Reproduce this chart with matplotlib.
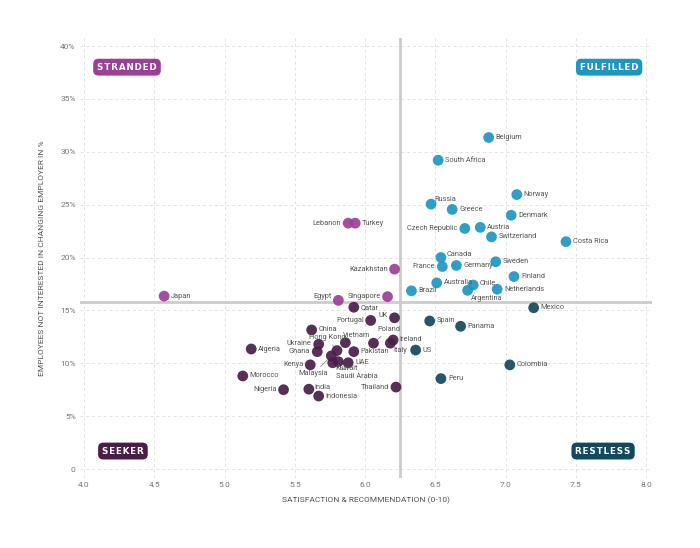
import matplotlib
matplotlib.use("Agg")
import matplotlib.pyplot as plt

plt.rcParams['font.family'] = ['Liberation Sans Narrow', 'Roboto', 'DejaVu Sans']

# ---- data ----
stranded_names = ["Japan", "Egypt", "Singapore", "Kazakhstan", "Lebanon", "Turkey"]
stranded_x = [4.57, 5.81, 6.16, 6.21, 5.88, 5.93]
stranded_y = [16.35, 15.95, 16.3, 18.9, 23.25, 23.25]

fulfilled_names = ["Belgium", "South Africa", "Norway", "Russia", "Greece", "Denmark",
                   "Czech Republic", "Austria", "Switzerland", "Costa Rica", "Canada",
                   "France", "Germany", "Sweden", "Finland", "Australia", "Chile",
                   "Argentina", "Netherlands", "Brazil"]
fulfilled_x = [6.88, 6.52, 7.08, 6.47, 6.62, 7.04, 6.71, 6.82, 6.90, 7.43, 6.54,
               6.55, 6.65, 6.93, 7.06, 6.51, 6.77, 6.73, 6.94, 6.33]
fulfilled_y = [31.35, 29.2, 25.95, 25.05, 24.55, 24.0, 22.75, 22.85, 21.95, 21.5, 20.0,
               19.15, 19.25, 19.6, 18.2, 17.6, 17.4, 16.9, 17.0, 16.85]

restless_names = ["Mexico", "Spain", "Panama", "US", "Colombia", "Peru"]
restless_x = [7.20, 6.46, 6.68, 6.36, 7.03, 6.54]
restless_y = [15.25, 14.0, 13.5, 11.25, 9.85, 8.55]

seeker_names = ["Qatar", "UK", "Portugal", "China", "Poland", "Vietnam", "Hong Kong",
                "Ireland", "Italy", "Ukraine", "Ghana", "Pakistan", "Kenya", "Malaysia",
                "Saudi Arabia", "Kuwait", "UAE", "Thailand", "India", "Indonesia",
                "Nigeria", "Algeria", "Morocco"]
seeker_x = [5.92, 6.21, 6.04, 5.62, 6.06, 5.86, 5.80, 6.20, 6.18, 5.67, 5.66, 5.92,
            5.61, 5.76, 5.77, 5.81, 5.88, 6.22, 5.60, 5.67, 5.42, 5.19, 5.13]
seeker_y = [15.3, 14.3, 14.05, 13.15, 11.9, 11.95, 11.2, 12.2, 11.9, 11.8, 11.1, 11.1,
            9.85, 10.7, 10.05, 10.15, 10.05, 7.75, 7.55, 6.9, 7.5, 11.35, 8.8]

x_threshold = 6.25
y_threshold = 15.8

x_ticks = [4.0, 4.5, 5.0, 5.5, 6.0, 6.5, 7.0, 7.5, 8.0]
y_ticks = [0, 5, 10, 15, 20, 25, 30, 35, 40]
y_ticklabels = ["0", "5%", "10%", "15%", "20%", "25%", "30%", "35%", "40%"]

x_label = "SATISFACTION & RECOMMENDATION (0-10)"
y_label = "EMPLOYEES NOT INTERESTED IN CHANGING EMPLOYER IN %"

badge_names = ["STRANDED", "FULFILLED", "SEEKER", "RESTLESS"]

# ---- styles ----
C_STRANDED = "#9b3f97"
C_FULFILLED = "#1e96c2"
C_SEEKER = "#4a1d48"
C_RESTLESS = "#12495d"

# label placement: name -> (dx px, dy px, ha, leader line)
label_pos = {
    "Lebanon": (-7, 0, "right", False),
    "Kazakhstan": (-7, 0, "right", False),
    "Singapore": (-7, 0, "right", False),
    "Egypt": (-7, 4, "right", False),
    "Czech Republic": (-7, 0, "right", False),
    "France": (-7, 0, "right", False),
    "Russia": (3, 5, "left", False),
    "Canada": (6, 3, "left", False),
    "Chile": (6, 2, "left", False),
    "Argentina": (3, -8, "left", False),
    "UK": (-7, 2, "right", False),
    "Portugal": (-7, 0, "right", False),
    "Ukraine": (-7, 1, "right", False),
    "Ghana": (-7, 0, "right", False),
    "Kenya": (-7, 0, "right", False),
    "Thailand": (-7, 0, "right", False),
    "Nigeria": (-7, 0, "right", False),
    "Vietnam": (-2, 7, "left", False),
    "Poland": (4, 14, "left", True),
    "Hong Kong": (-10, 13, "center", True),
    "Italy": (3, -7, "left", False),
    "Ireland": (6, 1, "left", False),
    "Malaysia": (-18, -18, "center", True),
    "Kuwait": (-3, -7, "left", False),
    "Saudi Arabia": (3, -14, "left", True),
    "India": (6, 2, "left", False),
}

fig = plt.figure(figsize=(7.0, 5.48), dpi=100)
ax = fig.add_axes([0.114, 0.1277, 0.817, 0.803])
ax.set_xlim(3.97, 8.04)
ax.set_ylim(-0.85, 40.76)

for s in ax.spines.values():
    s.set_visible(False)

ax.set_xticks(x_ticks)
ax.set_xticklabels([f"{v:.1f}" for v in x_ticks])
ax.set_yticks(y_ticks)
ax.set_yticklabels(y_ticklabels)
ax.tick_params(length=0, labelsize=6, colors="#777777", pad=3)
ax.grid(True, linestyle=(0, (3, 3)), color="#e3e3e3", linewidth=0.7)
ax.set_axisbelow(True)

ax.axvline(x_threshold, color="#cccccc", linewidth=2, zorder=1)
ax.axhline(y_threshold, color="#cccccc", linewidth=2, zorder=1)

ax.set_xlabel(x_label, fontsize=6, color="#555555", labelpad=6)
ax.set_ylabel(y_label, fontsize=6, color="#555555", labelpad=11)

groups = [
    (stranded_names, stranded_x, stranded_y, C_STRANDED),
    (fulfilled_names, fulfilled_x, fulfilled_y, C_FULFILLED),
    (restless_names, restless_x, restless_y, C_RESTLESS),
    (seeker_names, seeker_x, seeker_y, C_SEEKER),
]

for names, xs, ys, col in groups:
    ax.scatter(xs, ys, s=60, color=col, alpha=0.92, edgecolors="none", zorder=3)
    for n, x, y in zip(names, xs, ys):
        dx, dy, ha, line = label_pos.get(n, (7, 0, "left", False))
        kw = {}
        if line:
            kw["arrowprops"] = dict(arrowstyle="-", color="#777777", lw=0.5,
                                    shrinkA=1, shrinkB=4)
        ax.annotate(n, (x, y), xytext=(dx, dy), textcoords="offset pixels",
                    ha=ha, va="center", fontsize=5.3, color="#555555", zorder=4, **kw)

badge_pos = [(4.306, 38.0), (7.737, 38.0), (4.277, 1.7), (7.694, 1.7)]
badge_cols = [C_STRANDED, C_FULFILLED, C_SEEKER, C_RESTLESS]
for txt, (bx, by), col in zip(badge_names, badge_pos, badge_cols):
    spaced = "\u200a".join(txt)
    ax.text(bx, by, spaced, ha="center", va="center", fontsize=6.3, fontweight="bold",
            color="white", family=["DejaVu Sans"], zorder=5,
            bbox=dict(boxstyle="round,pad=0.45,rounding_size=0.6", fc=col, ec="none"))

fig.savefig("out.png", dpi=100, facecolor="white")
